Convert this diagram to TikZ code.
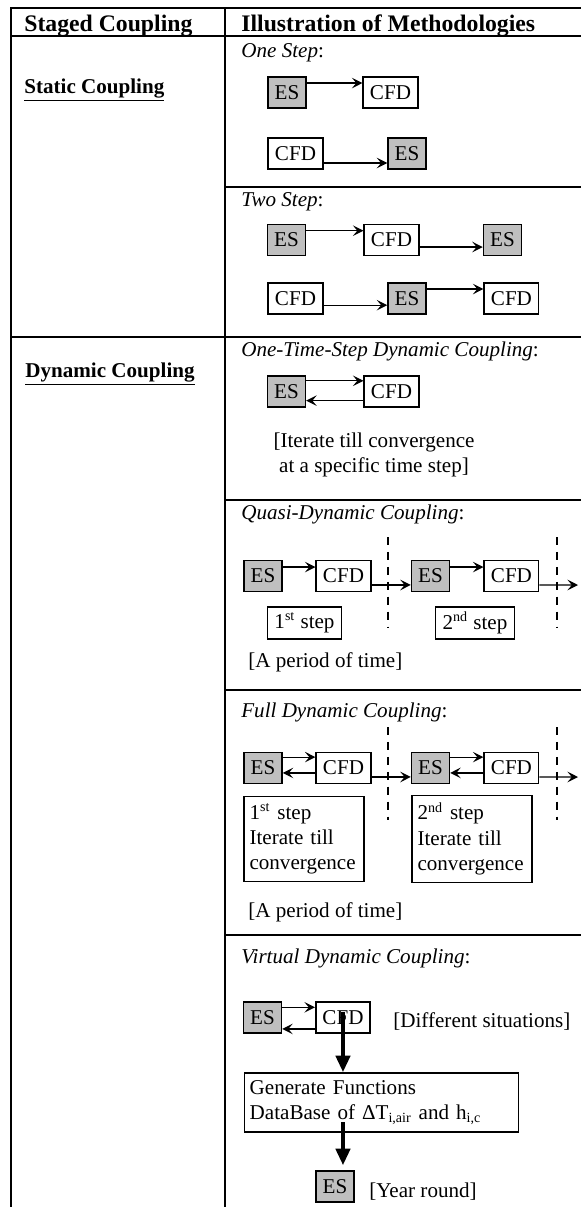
\documentclass[tikz,border=0pt,12pt]{standalone}
\usepackage{fontspec}
\setmainfont{Liberation Serif}
\usepackage{tikz}
\usetikzlibrary{shapes,arrows.meta}
\tikzstyle{es} = [rectangle, draw, line width=0.9pt, fill=black!25, minimum width=21.5pt, minimum height=17.6pt, inner sep=0pt]
\tikzstyle{cfd} = [rectangle, draw, line width=0.9pt, fill=white, minimum width=31pt, minimum height=17.6pt, inner sep=0pt]
\tikzstyle{stepbox} = [rectangle, draw, line width=0.9pt, inner xsep=4pt, inner ysep=0pt, minimum height=18pt]
\tikzstyle{iterbox} = [rectangle, draw, line width=0.9pt, text width=62pt, inner xsep=3pt, minimum height=45pt, align=left]
\tikzstyle{genbox} = [rectangle, draw, line width=0.9pt, text width=150pt, inner xsep=3pt, minimum height=32.3pt, align=left]
\tikzstyle{line} = [draw, line width=0.7pt, -{Stealth[length=6pt,width=6pt,inset=2.5pt]}]
\tikzstyle{bigline} = [draw, line width=2.4pt, -{Triangle[width=8pt,length=9.5pt]}]
\tikzstyle{rule} = [draw, line width=1.2pt, line cap=rect]
\tikzstyle{cut} = [draw, line width=0.9pt, dash pattern=on 4.5pt off 4pt]
\tikzstyle{title} = [anchor=base west, inner sep=0pt]
\tikzstyle{headtext} = [anchor=base west, inner sep=0pt, font=\fontsize{13.5}{16}\selectfont\bfseries]

\begin{document}
\begin{tikzpicture}[x=0.02cm, y=-0.02cm, node distance=1.61cm]
    \useasboundingbox (0,0) rectangle (581,1207);

    % table rules
    \path [rule] (11,8) -- (581,8);
    \path [rule] (11,36) -- (581,36);
    \path [rule] (11,8) -- (11,1207);
    \path [rule] (225,8) -- (225,1207);
    \path [rule] (11,337) -- (581,337);
    \foreach \y in {187,500,690,935}
        \path [rule] (225,\y) -- (581,\y);

    % headings
    \node [headtext] (hstaged) at (24,31) {Staged Coupling};
    \node [headtext] (hillu) at (241,31) {Illustration of Methodologies};
    \node [title, font=\bfseries] (static) at (24,93) {\underline{Static Coupling}};
    \node [title, font=\bfseries] (dynamic) at (25,377) {\underline{Dynamic Coupling}};

    % one step
    \node [title] (t-one) at (241,57) {\textit{One Step}:};
    \node [es] (os-es) at (287,92.5) {ES};
    \node [cfd, right of=os-es, node distance=2.07cm] (os-cfd) {CFD};
    \node [cfd] (os-cfd2) at (295.5,153.5) {CFD};
    \node [es, right of=os-cfd2, node distance=2.23cm] (os-es2) {ES};
    \path [line] ([yshift=5.4pt]os-es.east) -- ([yshift=5.4pt]os-cfd.west);
    \path [line] ([yshift=-5.4pt]os-cfd2.east) -- ([yshift=-5.4pt]os-es2.west);

    % two step
    \node [title] (t-two) at (241,206.5) {\textit{Two Step}:};
    \node [es] (ts-es) at (286.5,240) {ES};
    \node [cfd, right of=ts-es, node distance=2.1cm] (ts-cfd) {CFD};
    \node [es, right of=ts-cfd, node distance=2.22cm] (ts-es2) {ES};
    \node [cfd] (ts-cfd2) at (295.5,298.5) {CFD};
    \node [es, right of=ts-cfd2, node distance=2.23cm] (ts-es3) {ES};
    \node [cfd, right of=ts-es3, node distance=2.09cm] (ts-cfd3) {CFD};
    \path [line] ([yshift=5.3pt]ts-es.east) -- ([yshift=5.3pt]ts-cfd.west);
    \path [line] ([yshift=-4pt]ts-cfd.east) -- ([yshift=-4pt]ts-es2.west);
    \path [line] ([yshift=-3.8pt]ts-cfd2.east) -- ([yshift=-3.8pt]ts-es3.west);
    \path [line] ([yshift=5.4pt]ts-es3.east) -- ([yshift=5.4pt]ts-cfd3.west);

    % one-time-step
    \node [title] (t-ots) at (241,356.5) {\textit{One-Time-Step Dynamic Coupling}:};
    \node [es] (ots-es) at (286.5,391.5) {ES};
    \node [cfd, right of=ots-es, node distance=2.1cm] (ots-cfd) {CFD};
    \path [line] ([yshift=6.1pt]ots-es.east) -- ([yshift=6.1pt]ots-cfd.west);
    \path [line] ([yshift=-5.2pt]ots-cfd.west) -- ([yshift=-5.2pt]ots-es.east);
    \node [align=center, anchor=north, inner sep=0pt] (ots-note) at (374,432.5)
        {[Iterate till convergence\\at a specific time step]};

    % quasi-dynamic
    \node [title] (t-quasi) at (241,519) {\textit{Quasi-Dynamic Coupling}:};
    \node [es] (q-es1) at (263,576) {ES};
    \node [cfd, right of=q-es1] (q-cfd1) {CFD};
    \node [es, right of=q-cfd1, node distance=1.74cm] (q-es2) {ES};
    \node [cfd, right of=q-es2, node distance=1.62cm] (q-cfd2) {CFD};
    \coordinate (q-out) at (578,585);
    \path [line] ([yshift=5.1pt]q-es1.east) -- ([yshift=5.1pt]q-cfd1.west);
    \path [line] ([yshift=-5.1pt]q-cfd1.east) -- ([yshift=-5.1pt]q-es2.west);
    \path [line] ([yshift=5.1pt]q-es2.east) -- ([yshift=5.1pt]q-cfd2.west);
    \path [line] ([yshift=-5.1pt]q-cfd2.east) -- (q-out);
    \path [cut] (388,537) -- (388,628);
    \path [cut] (557,537) -- (557,628);
    \node [stepbox] (q-s1) at (304.5,623) {1\textsuperscript{st} step};
    \node [stepbox] (q-s2) at (475,623) {2\textsuperscript{nd} step};
    \node [title] (q-period) at (248,667) {[A period of time]};

    % full dynamic
    \node [title] (t-full) at (241,717) {\textit{Full Dynamic Coupling}:};
    \node [es] (f-es1) at (263,768) {ES};
    \node [cfd, right of=f-es1] (f-cfd1) {CFD};
    \node [es, right of=f-cfd1, node distance=1.74cm] (f-es2) {ES};
    \node [cfd, right of=f-es2, node distance=1.62cm] (f-cfd2) {CFD};
    \coordinate (f-out) at (578,777);
    \path [line] ([yshift=6.2pt]f-es1.east) -- ([yshift=6.2pt]f-cfd1.west);
    \path [line] ([yshift=-2.8pt]f-cfd1.west) -- ([yshift=-2.8pt]f-es1.east);
    \path [line] ([yshift=-5.1pt]f-cfd1.east) -- ([yshift=-5.1pt]f-es2.west);
    \path [line] ([yshift=6.2pt]f-es2.east) -- ([yshift=6.2pt]f-cfd2.west);
    \path [line] ([yshift=-2.8pt]f-cfd2.west) -- ([yshift=-2.8pt]f-es2.east);
    \path [line] ([yshift=-5.1pt]f-cfd2.east) -- (f-out);
    \path [cut] (388,727) -- (388,820);
    \path [cut] (557,727) -- (557,820);
    \node [iterbox] (f-s1) at (304,839) {1\textsuperscript{st} step\\Iterate till\\convergence};
    \node [iterbox] (f-s2) at (472,839) {2\textsuperscript{nd} step\\Iterate till\\convergence};
    \node [title] (f-period) at (248,917) {[A period of time]};

    % virtual dynamic
    \node [title] (t-virt) at (241,963) {\textit{Virtual Dynamic Coupling}:};
    \node [es] (v-es) at (262.5,1017.5) {ES};
    \node [cfd, right of=v-es] (v-cfd) {CFD};
    \path [line] ([yshift=5.8pt]v-es.east) -- ([yshift=5.8pt]v-cfd.west);
    \path [line] ([yshift=-6.5pt]v-cfd.west) -- ([yshift=-6.5pt]v-es.east);
    \node [title] (v-diff) at (393,1027) {[Different situations]};
    \node [genbox] (gen) at (381.5,1102.5) {Generate Functions\\DataBase of ΔT\textsubscript{i,air} and h\textsubscript{i,c}};
    \node [es] (y-es) at (335,1186.5) {ES};
    \node [title] (y-note) at (369,1197) {[Year round]};
    \coordinate [yshift=3pt] (cfd-out) at (v-cfd.center);
    \coordinate [yshift=6pt] (gen-out) at (v-cfd.center |- gen.south);
    \path [bigline] (cfd-out) -- (v-cfd.center |- gen.north);
    \path [bigline, shorten >=2.8pt] (gen-out) -- (v-cfd.center |- y-es.north);
\end{tikzpicture}
\end{document}
